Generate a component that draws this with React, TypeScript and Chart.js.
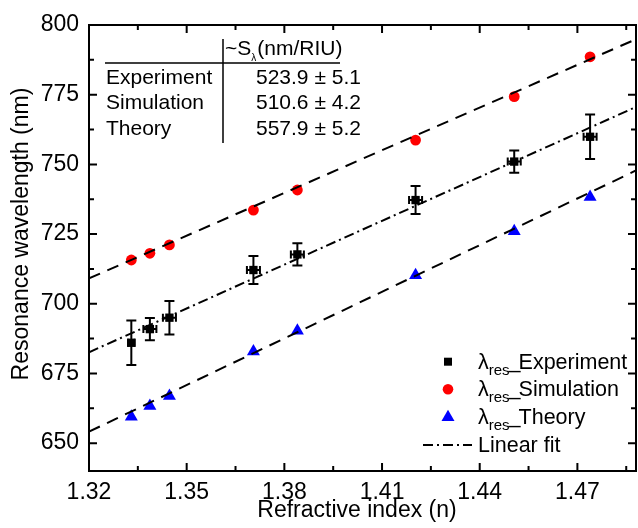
import { useEffect, useRef } from 'react';
import { Chart, registerables } from 'chart.js';

Chart.register(...registerables);

// ---------- data ----------
const refractiveIndex = [1.333, 1.3387, 1.3447, 1.3705, 1.384, 1.4203, 1.4506, 1.4739];
const experiment = [686.0, 690.9, 695.0, 712.1, 717.7, 737.2, 751.0, 759.9];
const experimentErrY = [8, 4, 6, 5, 4, 5, 4, 8];
const experimentErrX = [0.001, 0.002, 0.002, 0.002, 0.002, 0.002, 0.002, 0.002];
const simulation = [715.7, 718.1, 721.1, 733.6, 740.8, 758.7, 774.3, 788.6];
const theory = [659.5, 663.3, 666.9, 682.9, 690.3, 710.2, 726.0, 738.3];

const fitX = [1.32, 1.488];
const fitExperiment = [682.6, 770.6];
const fitSimulation = [709.1, 794.9];
const fitTheory = [654.1, 747.8];

const xTicks = [1.32, 1.35, 1.38, 1.41, 1.44, 1.47];
const xMinorTicks = [1.335, 1.365, 1.395, 1.425, 1.455, 1.485];
const yTicks = [650, 675, 700, 725, 750, 775, 800];
const yMinorTicks = [662.5, 687.5, 712.5, 737.5, 762.5, 787.5];

const tableNames = ['Experiment', 'Simulation', 'Theory'];
const tableValues = ['523.9 ± 5.1', '510.6 ± 4.2', '557.9 ± 5.2'];
const legendNames = ['Experiment', 'Simulation', 'Theory'];

const FONT = '"Liberation Sans", Arial, sans-serif';

const pts = (xs: number[], ys: number[]) => xs.map((x, i) => ({ x, y: ys[i] }));

const errorBars = {
  id: 'errorBars',
  afterDatasetsDraw(chart: any) {
    const ctx = chart.ctx;
    const xs = chart.scales.x;
    const ys = chart.scales.y;
    ctx.save();
    ctx.strokeStyle = '#000';
    ctx.lineWidth = 2;
    refractiveIndex.forEach((xv, i) => {
      const px = xs.getPixelForValue(xv);
      const py = ys.getPixelForValue(experiment[i]);
      const t = ys.getPixelForValue(experiment[i] + experimentErrY[i]);
      const b = ys.getPixelForValue(experiment[i] - experimentErrY[i]);
      const l = xs.getPixelForValue(xv - experimentErrX[i]);
      const r = xs.getPixelForValue(xv + experimentErrX[i]);
      ctx.beginPath();
      ctx.moveTo(px, t); ctx.lineTo(px, b);
      ctx.moveTo(px - 5, t); ctx.lineTo(px + 5, t);
      ctx.moveTo(px - 5, b); ctx.lineTo(px + 5, b);
      ctx.moveTo(l, py); ctx.lineTo(r, py);
      ctx.moveTo(l, py - 4); ctx.lineTo(l, py + 4);
      ctx.moveTo(r, py - 4); ctx.lineTo(r, py + 4);
      ctx.stroke();
    });
    ctx.restore();
  },
};

const decor = {
  id: 'decor',
  afterDraw(chart: any) {
    const ctx = chart.ctx;
    const { left, right, top, bottom } = chart.chartArea;
    const xs = chart.scales.x;
    const ys = chart.scales.y;
    ctx.save();
    ctx.strokeStyle = '#000';
    ctx.lineWidth = 2;
    ctx.strokeRect(left, top, right - left, bottom - top);
    ctx.beginPath();
    const major = 8, minor = 5;
    xTicks.forEach((v) => {
      const p = xs.getPixelForValue(v);
      ctx.moveTo(p, bottom); ctx.lineTo(p, bottom - major);
      ctx.moveTo(p, top); ctx.lineTo(p, top + major);
    });
    xMinorTicks.forEach((v) => {
      const p = xs.getPixelForValue(v);
      ctx.moveTo(p, bottom); ctx.lineTo(p, bottom - minor);
      ctx.moveTo(p, top); ctx.lineTo(p, top + minor);
    });
    yTicks.forEach((v) => {
      const p = ys.getPixelForValue(v);
      ctx.moveTo(left, p); ctx.lineTo(left + major, p);
      ctx.moveTo(right, p); ctx.lineTo(right - major, p);
    });
    yMinorTicks.forEach((v) => {
      const p = ys.getPixelForValue(v);
      ctx.moveTo(left, p); ctx.lineTo(left + minor, p);
      ctx.moveTo(right, p); ctx.lineTo(right - minor, p);
    });
    ctx.stroke();

    // axis titles
    ctx.fillStyle = '#000';
    ctx.font = `23px ${FONT}`;
    ctx.textAlign = 'center';
    ctx.textBaseline = 'middle';
    ctx.fillText('Refractive index (n)', 357, 511);
    ctx.save();
    ctx.translate(22, 234);
    ctx.rotate(-Math.PI / 2);
    ctx.fillText('Resonance wavelength (nm)', 0, 0);
    ctx.restore();

    // table
    ctx.textAlign = 'left';
    ctx.textBaseline = 'alphabetic';
    ctx.lineWidth = 1.5;
    ctx.beginPath();
    ctx.moveTo(105, 63); ctx.lineTo(340, 63);
    ctx.moveTo(223, 39); ctx.lineTo(223, 143);
    ctx.stroke();
    let hx = 225;
    ctx.font = `21px ${FONT}`;
    ctx.fillText('~S', hx, 55);
    hx += ctx.measureText('~S').width;
    ctx.font = `10px ${FONT}`;
    ctx.fillText('λ', hx, 61);
    hx += ctx.measureText('λ').width + 1;
    ctx.font = `21px ${FONT}`;
    ctx.fillText('(nm/RIU)', hx, 55);
    tableNames.forEach((n, i) => {
      const by = 84 + i * 25.3;
      ctx.fillText(n, 106, by);
      ctx.fillText(tableValues[i], 256, by);
    });

    // legend
    const rows = [361.7, 389.3, 417.3];
    const mx = 448;
    legendNames.forEach((n, i) => {
      const cy = rows[i];
      ctx.beginPath();
      if (i === 0) {
        ctx.fillStyle = '#000';
        ctx.rect(mx - 4, cy - 4, 8, 8);
      } else if (i === 1) {
        ctx.fillStyle = '#ff0000';
        ctx.arc(mx, cy, 5.3, 0, Math.PI * 2);
      } else {
        ctx.fillStyle = '#0000ff';
        const r = 7.5;
        ctx.moveTo(mx, cy - r);
        ctx.lineTo(mx + r * Math.sin(Math.PI / 3), cy + r / 2);
        ctx.lineTo(mx - r * Math.sin(Math.PI / 3), cy + r / 2);
        ctx.closePath();
      }
      ctx.fill();
      ctx.fillStyle = '#000';
      const by = cy + 7;
      let tx = 478;
      ctx.font = `21.5px ${FONT}`;
      ctx.fillText('λ', tx, by);
      tx += ctx.measureText('λ').width;
      ctx.font = `15px ${FONT}`;
      ctx.fillText('res', tx, by + 6);
      tx += ctx.measureText('res').width;
      ctx.font = `21.5px ${FONT}`;
      ctx.fillText('_', tx - 1, by - 1);
      tx += ctx.measureText('_').width - 3;
      ctx.fillText(n, tx, by);
    });
    // linear fit legend
    ctx.lineWidth = 2;
    ctx.setLineDash([10, 4, 2, 4]);
    ctx.beginPath();
    ctx.moveTo(423, 445); ctx.lineTo(472, 445);
    ctx.stroke();
    ctx.setLineDash([]);
    ctx.font = `21.5px ${FONT}`;
    ctx.fillText('Linear fit', 478, 452);
    ctx.restore();
  },
};

export default function App() {
  const ref = useRef<HTMLCanvasElement | null>(null);
  useEffect(() => {
    if (!ref.current) return;
    const chart = new Chart(ref.current, {
      type: 'scatter',
      data: {
        datasets: [
          {
            label: 'Linear fit (experiment)',
            data: pts(fitX, fitExperiment),
            showLine: true,
            borderColor: '#000',
            borderWidth: 2,
            borderDash: [10, 4, 2, 4],
            pointRadius: 0,
          },
          {
            label: 'Linear fit (simulation)',
            data: pts(fitX, fitSimulation),
            showLine: true,
            borderColor: '#000',
            borderWidth: 2,
            borderDash: [12, 8],
            pointRadius: 0,
          },
          {
            label: 'Linear fit (theory)',
            data: pts(fitX, fitTheory),
            showLine: true,
            borderColor: '#000',
            borderWidth: 2,
            borderDash: [12, 8],
            pointRadius: 0,
          },
          {
            label: 'λres_Experiment',
            data: pts(refractiveIndex, experiment),
            pointStyle: 'rect',
            pointRadius: 5.9,
            backgroundColor: '#000',
            borderColor: '#000',
            borderWidth: 0,
          },
          {
            label: 'λres_Simulation',
            data: pts(refractiveIndex, simulation),
            pointStyle: 'circle',
            pointRadius: 5.4,
            backgroundColor: '#ff0000',
            borderColor: '#ff0000',
            borderWidth: 0,
          },
          {
            label: 'λres_Theory',
            data: pts(refractiveIndex, theory),
            pointStyle: 'triangle',
            pointRadius: 7.5,
            backgroundColor: '#0000ff',
            borderColor: '#0000ff',
            borderWidth: 0,
          },
        ],
      },
      options: {
        responsive: false,
        animation: false,
        layout: { autoPadding: false, padding: { left: 0, right: 2, top: 25, bottom: 0 } },
        plugins: { legend: { display: false }, tooltip: { enabled: false } },
        scales: {
          x: {
            type: 'linear',
            min: 1.32,
            max: 1.488,
            grid: { display: false, drawTicks: false },
            border: { display: false },
            afterBuildTicks: (s: any) => {
              s.ticks = xTicks.map((v) => ({ value: v }));
            },
            afterFit: (s: any) => {
              s.height = 57;
              s.paddingLeft = 0;
              s.paddingRight = 0;
            },
            ticks: {
              padding: 8,
              color: '#000',
              font: { family: FONT, size: 23 },
              maxRotation: 0,
              callback: (v: any) => Number(v).toFixed(2),
            },
          },
          y: {
            type: 'linear',
            min: 640,
            max: 800,
            grid: { display: false, drawTicks: false },
            border: { display: false },
            afterBuildTicks: (s: any) => {
              s.ticks = yTicks.map((v) => ({ value: v }));
            },
            afterFit: (s: any) => {
              s.width = 89;
              s.paddingTop = 0;
              s.paddingBottom = 0;
            },
            ticks: {
              padding: 10,
              color: '#000',
              font: { family: FONT, size: 23 },
              callback: (v: any) => String(v),
            },
          },
        },
      },
      plugins: [errorBars, decor],
    });
    return () => chart.destroy();
  }, []);
  return (
    <div style={{ position: 'absolute', left: 0, top: 0, width: 638, height: 528, background: '#fff' }}>
      <canvas ref={ref} width={638} height={528} style={{ display: 'block' }} />
    </div>
  );
}
